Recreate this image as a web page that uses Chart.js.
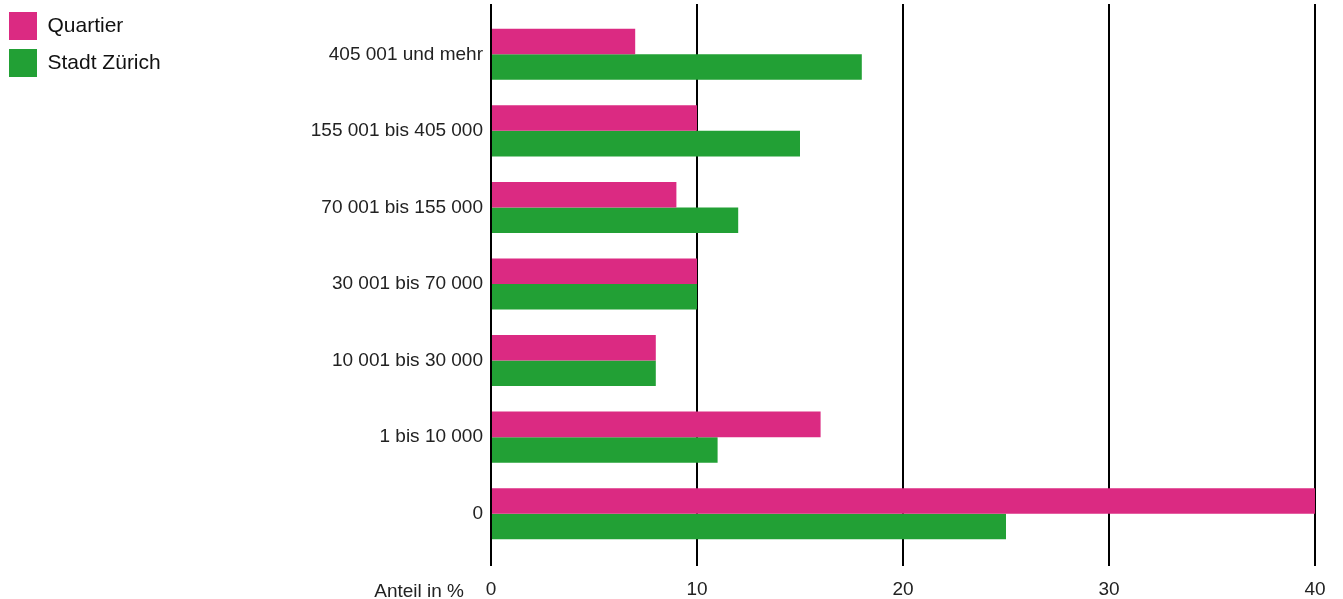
<!DOCTYPE html>
<html>
<head>
    <title>Einkommen Quartier vs Stadt Zürich</title>
    <script src="https://cdn.jsdelivr.net/npm/chart.js"></script>
    <style>
        html, body { margin: 0; padding: 0; background: #fff; }
        #wrap { width: 1343px; height: 599px; }
    </style>
</head>
<body>
    <div id="wrap"><canvas id="incomeChart"></canvas></div>
    <script>
        const categories = ['405 001 und mehr', '155 001 bis 405 000', '70 001 bis 155 000', '30 001 bis 70 000', '10 001 bis 30 000', '1 bis 10 000', '0'];
        const quartier = [7, 10, 9, 10, 8, 16, 40];
        const stadt = [18, 15, 12, 10, 8, 11, 25];
        const xTicks = [0, 10, 20, 30, 40];

        const fontFamily = '"Liberation Sans", Arial, sans-serif';

        // axis title sits left of the "0" tick, not centred under the axis
        const axisTitle = {
            id: 'axisTitle',
            afterDraw(chart) {
                const x = chart.scales.x;
                const ctx = chart.ctx;
                ctx.save();
                ctx.font = '19px ' + fontFamily;
                ctx.fillStyle = '#222';
                ctx.textAlign = 'right';
                ctx.textBaseline = 'alphabetic';
                ctx.fillText('Anteil in %', x.left - 27, x.top + 45);
                ctx.restore();
            }
        };

        const ctx = document.getElementById('incomeChart').getContext('2d');
        new Chart(ctx, {
            type: 'bar',
            data: {
                labels: categories,
                datasets: [
                    { label: 'Quartier', data: quartier, backgroundColor: '#db2a82' },
                    { label: 'Stadt Zürich', data: stadt, backgroundColor: '#22a035' }
                ]
            },
            plugins: [axisTitle],
            options: {
                indexAxis: 'y',
                responsive: true,
                maintainAspectRatio: false,
                animation: false,
                categoryPercentage: 0.667,
                barPercentage: 1,
                layout: { padding: { top: 3, right: 28, bottom: 0, left: 0 } },
                plugins: {
                    tooltip: { enabled: false },
                    legend: {
                        position: 'left',
                        align: 'start',
                        labels: {
                            boxWidth: 28,
                            boxHeight: 28,
                            padding: 9,
                            color: '#111',
                            font: { family: fontFamily, size: 21 }
                        }
                    }
                },
                scales: {
                    x: {
                        min: 0,
                        max: 40,
                        afterBuildTicks(scale) { scale.ticks = xTicks.map(v => ({ value: v })); },
                        afterFit(scale) { scale.height = 47; },
                        grid: { color: '#000', lineWidth: 2, tickLength: 14, tickColor: '#000' },
                        border: { display: false },
                        ticks: { color: '#222', padding: 12, font: { family: fontFamily, size: 19 } }
                    },
                    // hidden top axis: only its tick marks, so the grid reaches above the first bars
                    x2: {
                        position: 'top',
                        min: 0,
                        max: 40,
                        afterBuildTicks(scale) { scale.ticks = xTicks.map(v => ({ value: v })); },
                        afterFit(scale) { scale.height = 13; },
                        grid: { color: '#000', lineWidth: 2, tickLength: 12, drawOnChartArea: false },
                        border: { display: false },
                        ticks: { display: false }
                    },
                    y: {
                        grid: { display: false, drawTicks: false },
                        border: { display: false },
                        afterFit(scale) {
                            const lg = scale.chart.legend;
                            scale.width = 491 - (lg ? lg.width : 0);
                            scale.paddingTop = 0;
                            scale.paddingBottom = 0;
                        },
                        ticks: { color: '#222', padding: 8, font: { family: fontFamily, size: 19 } }
                    }
                }
            }
        });
    </script>
</body>
</html>
